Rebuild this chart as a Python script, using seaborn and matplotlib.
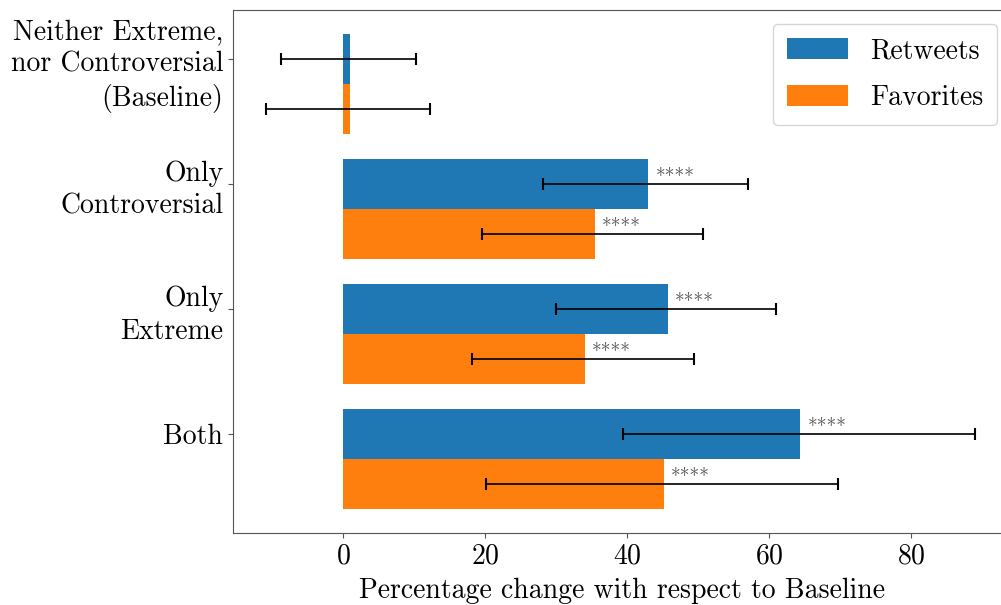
import matplotlib
matplotlib.use("Agg")
import matplotlib.pyplot as plt
import seaborn as sns
import pandas as pd
import numpy as np

categories = ["Neither Extreme,\nnor Controversial\n(Baseline)", "Only\nControversial", "Only\nExtreme", "Both"]
metrics = ["Retweets", "Favorites"]
retweets = [1.0, 43.0, 45.8, 64.4]
retweets_low = [-8.7, 28.2, 30.0, 39.4]
retweets_high = [10.3, 57.0, 61.0, 89.0]
favorites = [1.0, 35.5, 34.1, 45.2]
favorites_low = [-10.8, 19.6, 18.2, 20.1]
favorites_high = [12.3, 50.7, 49.4, 69.7]
stars = ["", "****", "****", "****"]
colors = ["#1f77b4", "#ff7f0e"]

plt.rcParams['font.family'] = 'cmr10'
plt.rcParams['mathtext.fontset'] = 'cm'
plt.rcParams['axes.formatter.use_mathtext'] = True
plt.rcParams['axes.unicode_minus'] = False

df = pd.DataFrame({
    "category": categories * 2,
    "metric": [metrics[0]] * 4 + [metrics[1]] * 4,
    "value": retweets + favorites,
})

fig = plt.figure(figsize=(10.01, 6.05), dpi=100)
ax = fig.add_axes([0.2328, 0.119, 1.010 - 0.2328, 0.8645])

sns.barplot(data=df, x="value", y="category", hue="metric", order=categories,
            hue_order=metrics, palette=colors, saturation=1, errorbar=None,
            orient="h", width=0.8, linewidth=0, ax=ax)

lows = [retweets_low, favorites_low]
highs = [retweets_high, favorites_high]
vals = [retweets, favorites]
bar_conts = [c for c in ax.containers][:2]
tick_pos = []
for ci, cont in enumerate(bar_conts):
    for bi, bar in enumerate(list(cont)):
        yc = bar.get_y() + bar.get_height() / 2
        if ci == 0:
            tick_pos.append(yc)
        v = vals[ci][bi]
        ax.errorbar(v, yc, xerr=[[v - lows[ci][bi]], [highs[ci][bi] - v]],
                    fmt="none", ecolor="black", elinewidth=1.2, capsize=4, capthick=1.5)
        if stars[bi]:
            ax.text(v + 1.0, yc - 0.05, stars[bi], ha="left", va="center",
                    fontsize=14, color="#555555")

ax.set_xlim(-15.5, 94.1)
ax.set_ylim(3.592, -0.592)
ax.set_xticks([0, 20, 40, 60, 80])
ax.set_yticks(tick_pos)
ax.set_yticklabels(categories, linespacing=1.3)
ax.tick_params(axis="both", labelsize=20, color="#555555", length=3.5)
ax.set_ylabel("")
ax.set_xlabel("Percentage change with respect to Baseline", fontsize=20, labelpad=6)
for s in ax.spines.values():
    s.set_color("#555555")
    s.set_linewidth(0.8)

leg = ax.legend(loc="upper right", fontsize=20, frameon=True, labelspacing=0.75,
                handlelength=2.2, handleheight=0.8, borderpad=0.5)
leg.set_title(None)

fig.savefig("out.png", dpi=100)
